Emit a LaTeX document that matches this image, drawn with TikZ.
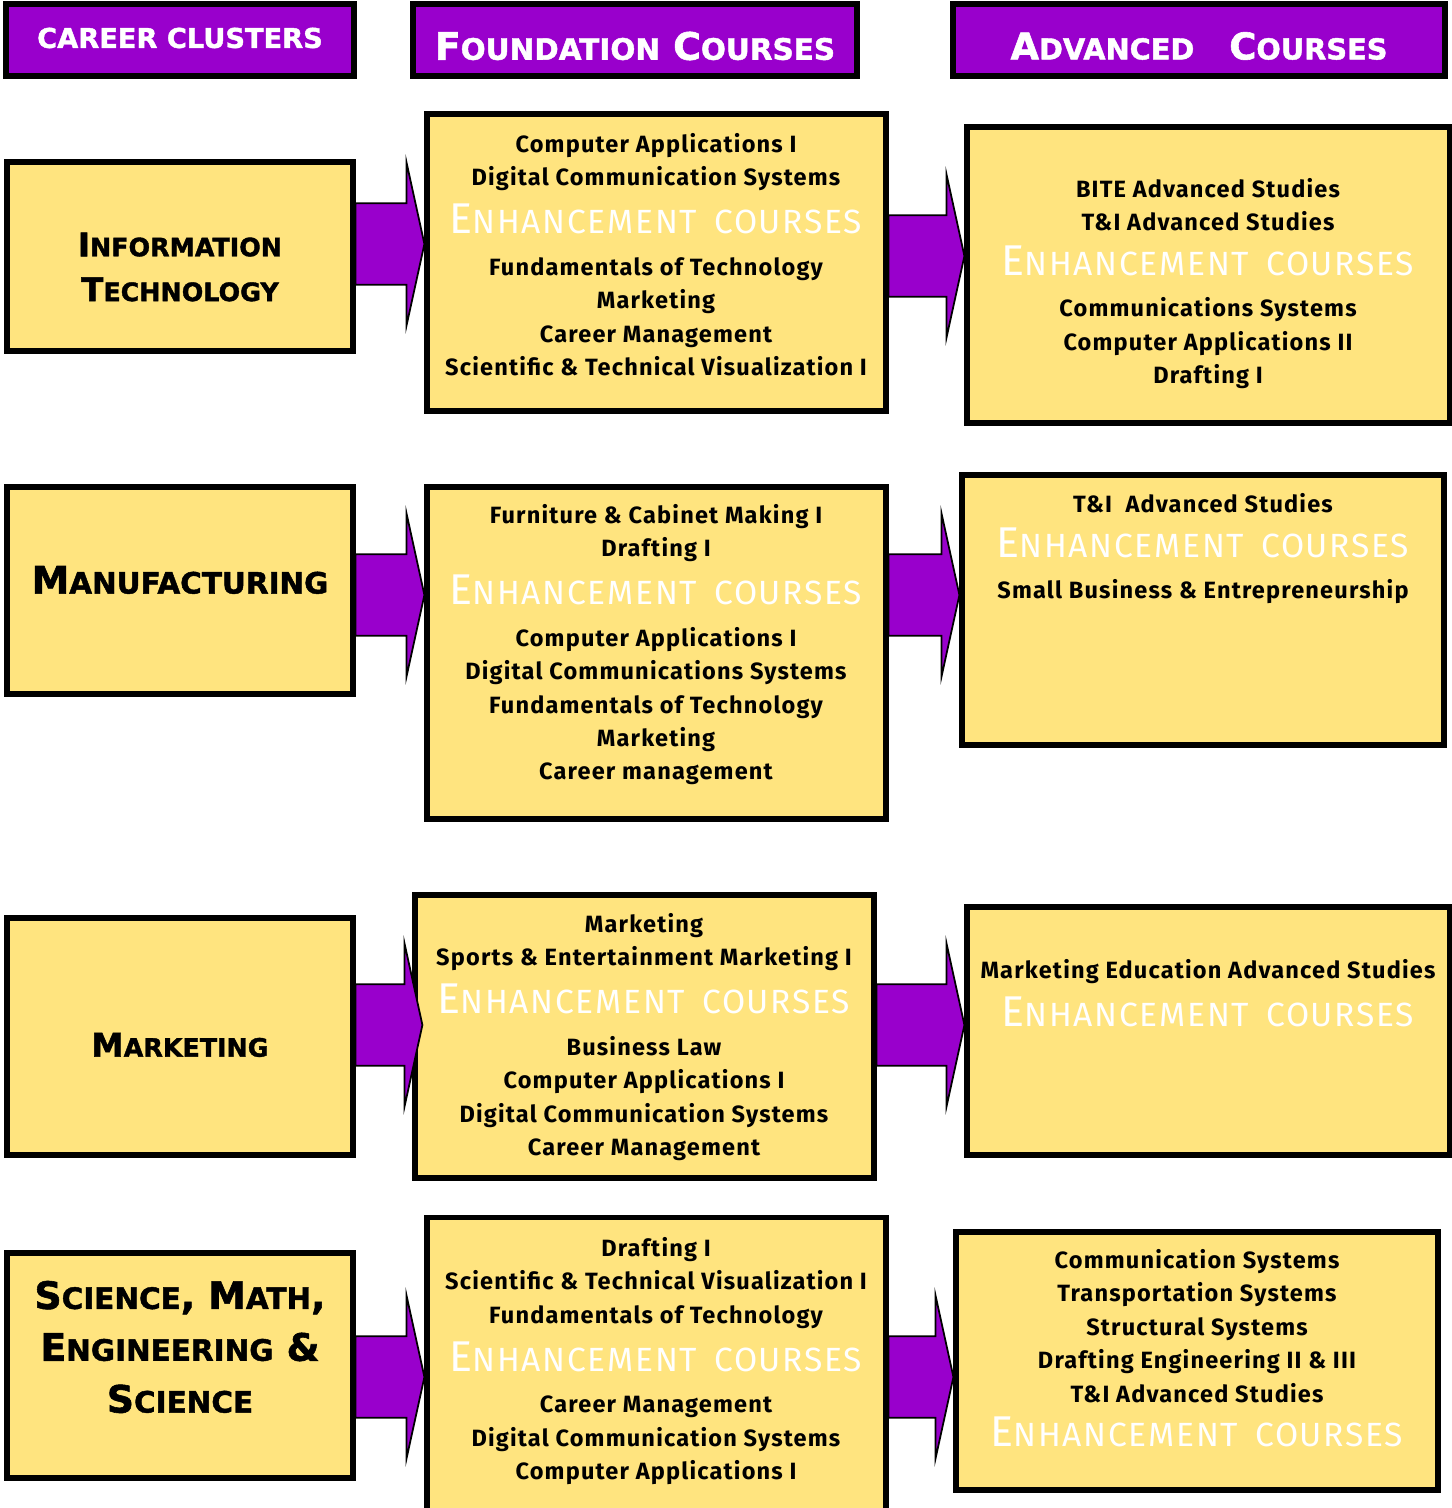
\documentclass[tikz,border=0pt]{standalone}
\usepackage{fontspec}
\usepackage{xcolor}
\usetikzlibrary{calc, positioning}

\newfontfamily\comic{Fira Sans}[LetterSpace=5]
\newfontfamily\heavy{DejaVu Sans}[BoldFeatures={FakeBold=1.5}]

\definecolor{headpurple}{HTML}{9900CC}
\definecolor{boxyellow}{HTML}{FFE47F}

% fake small caps: first letter full size, rest smaller
\makeatletter
\newcommand\fsc[2]{#1{\fontsize{\fpeval{0.78*\f@size}}{\f@baselineskip}\selectfont #2}}
\makeatother

\newcommand\enh{{\mdseries\color{white}\fontsize{24.5}{24}\selectfont\fsc{E}{NHANCEMENT}\hspace{0.4em}\fsc{}{COURSES}}}

% block arrow from #1 (start on source box) to #2 (tip on target box)
\newcommand\blockarrow[2]{%
  \filldraw[arrowbody] let \p1=#1, \p2=#2 in
    (\x1,\y1+23.2pt) -- (\x2-10.2pt,\y1+23.2pt) -- (\x2-10.2pt,\y1+46.5pt)
    -- (\x2,\y2) -- (\x2-10.2pt,\y1-46.5pt) -- (\x2-10.2pt,\y1-23.2pt)
    -- (\x1,\y1-23.2pt) -- cycle;
}

\begin{document}
\begin{tikzpicture}[x=0.02cm, y=-0.02cm]
    \tikzstyle{header} = [rectangle, draw=black, line width=3.4pt, fill=headpurple, text=white, font=\heavy\bfseries]
    \tikzstyle{cluster} = [rectangle, draw=black, line width=3pt, fill=boxyellow]
    \tikzstyle{clabel} = [align=center, inner sep=0pt]
    \tikzstyle{course} = [rectangle, draw=black, line width=3pt, fill=boxyellow]
    \tikzstyle{list} = [anchor=north, inner sep=0pt, align=center, font=\comic\bfseries\fontsize{13.4}{19.06}\selectfont]
    \tikzstyle{arrowbody} = [fill=headpurple, draw=black, line width=1pt, line join=miter]

    \clip (0,0) rectangle (1452,1508);

    % headers
    \node[header, minimum width=6.96cm, minimum height=1.44cm] (hcl) at (180,40) {};
    \node[font=\heavy\bfseries\fontsize{15.5}{18}\selectfont, text=white] (hclt) at (180,38) {CAREER CLUSTERS};
    \node[header, minimum width=8.88cm, minimum height=1.44cm] (hfd) at (635,40) {};
    \node[font=\heavy\bfseries\fontsize{21.5}{24}\selectfont, text=white] (hfdt) at (635,46) {\fsc{F}{OUNDATION} \fsc{C}{OURSES}};
    \node[header, minimum width=9.84cm, minimum height=1.44cm] (had) at (1199,40) {};
    \node[font=\heavy\bfseries\fontsize{21}{24}\selectfont, text=white] (hadt) at (1199,46) {\fsc{A}{DVANCED}\hspace{0.6em} \fsc{C}{OURSES}};

    % row 1
    \node[cluster, minimum width=6.92cm, minimum height=3.78cm] (cl1) at (180,256.5) {};
    \node[clabel, font=\heavy\bfseries\fontsize{18.5}{25.5}\selectfont] (cl1t) at (180,267) {\fsc{I}{NFORMATION}\\ \fsc{T}{ECHNOLOGY}};
    \node[course, minimum width=9.18cm, minimum height=5.94cm] (fd1) at (656.5,262.5) {};
    \node[course, minimum width=9.66cm, minimum height=5.92cm] (ad1) at (1208.5,275) {};
    \node[list] (fd1t) at (656,133) {Computer Applications I\\ Digital Communication Systems\\[6.3pt] \enh\\[4.5pt] Fundamentals of Technology\\ Marketing\\ Career Management\\ Scientific \& Technical Visualization I};
    \node[list] (ad1t) at (1208,178) {BITE Advanced Studies\\ T\&I Advanced Studies\\[6.3pt] \enh\\[4.5pt] Communications Systems\\ Computer Applications II\\ Drafting I};
    \coordinate (row1) at (0,244);
    \blockarrow{(cl1.east |- row1)}{(fd1.west |- row1)}
    \coordinate (row1b) at (0,256);
    \blockarrow{(fd1.east |- row1b)}{(ad1.west |- row1b)}

    % row 2
    \node[cluster, minimum width=6.92cm, minimum height=4.14cm] (cl2) at (180,590.5) {};
    \node[clabel, font=\heavy\bfseries\fontsize{21.5}{24}\selectfont] (cl2t) at (180,580) {\fsc{M}{ANUFACTURING}};
    \node[course, minimum width=9.18cm, minimum height=6.64cm] (fd2) at (656.5,653) {};
    \node[course, minimum width=9.64cm, minimum height=5.4cm] (ad2) at (1203,610) {};
    \node[list] (fd2t) at (656,504) {Furniture \& Cabinet Making I\\ Drafting I\\[6.3pt] \enh\\[4.5pt] Computer Applications I\\ Digital Communications Systems\\ Fundamentals of Technology\\ Marketing\\ Career management};
    \node[list] (ad2t) at (1203,493) {T\&I\ \ Advanced Studies\\[6.3pt] \enh\\[4.5pt] Small Business \& Entrepreneurship};
    \coordinate (row2) at (0,595);
    \blockarrow{(cl2.east |- row2)}{(fd2.west |- row2)}
    \blockarrow{(fd2.east |- row2)}{(ad2.west |- row2)}

    % row 3
    \node[cluster, minimum width=6.92cm, minimum height=4.74cm] (cl3) at (180,1036.5) {};
    \node[clabel, font=\heavy\bfseries\fontsize{18.5}{24}\selectfont] (cl3t) at (180,1045) {\fsc{M}{ARKETING}};
    \node[course, minimum width=9.18cm, minimum height=5.66cm] (fd3) at (644.5,1036.5) {};
    \node[course, minimum width=9.66cm, minimum height=4.96cm] (ad3) at (1208.5,1031) {};
    \node[list] (fd3t) at (644,913) {Marketing\\ Sports \& Entertainment Marketing I\\[6.3pt] \enh\\[4.5pt] Business Law\\ Computer Applications I\\ Digital Communication Systems\\ Career Management};
    \node[list] (ad3t) at (1208,959) {Marketing Education Advanced Studies\\[6.3pt] \enh};
    \coordinate (row3) at (0,1025);
    \blockarrow{(cl3.east |- row3)}{($(fd3.west |- row3)+(10,0)$)}
    \blockarrow{(fd3.east |- row3)}{(ad3.west |- row3)}

    % row 4
    \node[cluster, minimum width=6.92cm, minimum height=4.5cm] (cl4) at (180,1365.5) {};
    \node[clabel, font=\heavy\bfseries\fontsize{21.5}{29.5}\selectfont] (cl4t) at (180,1347) {\fsc{S}{CIENCE}, \fsc{M}{ATH},\\ \fsc{E}{NGINEERING} \&\\ \fsc{S}{CIENCE}};
    \node[course, minimum width=9.18cm, minimum height=6.3cm] (fd4) at (656.5,1375) {};
    \node[course, minimum width=9.64cm, minimum height=5.16cm] (ad4) at (1197,1361) {};
    \node[list] (fd4t) at (656,1237) {Drafting I\\ Scientific \& Technical Visualization I\\ Fundamentals of Technology\\[6.3pt] \enh\\[4.5pt] Career Management\\ Digital Communication Systems\\ Computer Applications I};
    \node[list] (ad4t) at (1197,1249) {Communication Systems\\ Transportation Systems\\ Structural Systems\\ Drafting Engineering II \& III\\ T\&I Advanced Studies\\[6.3pt] \enh};
    \coordinate (row4) at (0,1377);
    \blockarrow{(cl4.east |- row4)}{(fd4.west |- row4)}
    \blockarrow{(fd4.east |- row4)}{(ad4.west |- row4)}
\end{tikzpicture}
\end{document}
